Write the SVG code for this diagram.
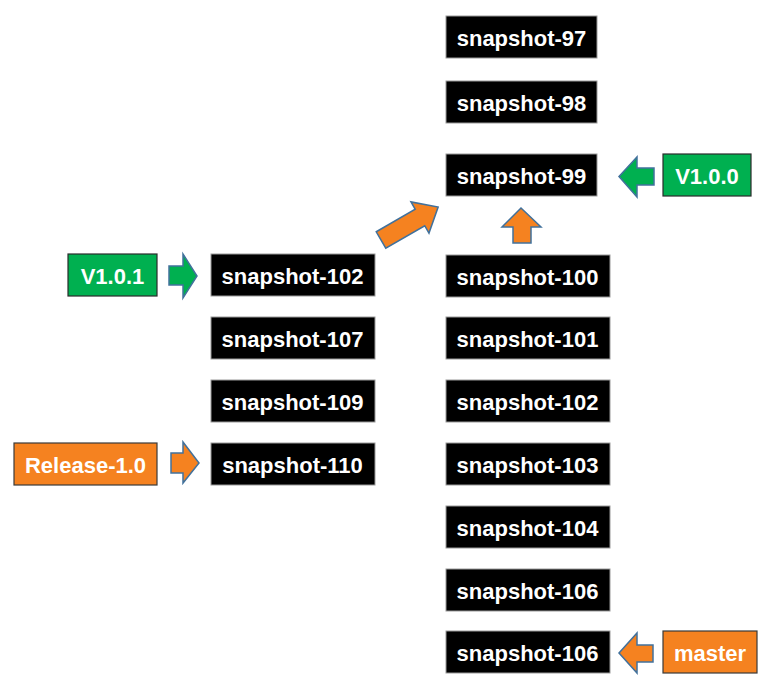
<svg xmlns="http://www.w3.org/2000/svg" width="769" height="686" viewBox="0 0 769 686">
<style>
.snap{fill:#000;stroke:#9a9a9a;stroke-width:1}
.green{fill:#00B050;stroke:#2b2b2b;stroke-width:1.2}
.orange{fill:#F58220;stroke:#3a3a3a;stroke-width:1.2}
.t{font-family:"Liberation Sans",Arial,sans-serif;font-weight:bold;font-size:22px;fill:#fff;text-anchor:middle}
.ga{fill:#00B050;stroke:#41719C;stroke-width:1.5;stroke-linejoin:miter}
.oa{fill:#F58220;stroke:#41719C;stroke-width:1.5;stroke-linejoin:miter}
</style>
<rect width="769" height="686" fill="#fff"/>
<g id="s97"><rect class="snap" x="446" y="16" width="151" height="42"/><text class="t" x="521.5" y="45.5">snapshot-97</text></g>
<g id="s98"><rect class="snap" x="446" y="81" width="151" height="42"/><text class="t" x="521.5" y="110.5">snapshot-98</text></g>
<g id="s99"><rect class="snap" x="446" y="154" width="151" height="42"/><text class="t" x="521.5" y="183.5">snapshot-99</text></g>
<g id="s100"><rect class="snap" x="446" y="255" width="164" height="42"/><text class="t" x="527.5" y="284.5">snapshot-100</text></g>
<g id="s101"><rect class="snap" x="446" y="317" width="164" height="42"/><text class="t" x="527.5" y="346.5">snapshot-101</text></g>
<g id="s102r"><rect class="snap" x="446" y="380" width="164" height="42"/><text class="t" x="527.5" y="409.5">snapshot-102</text></g>
<g id="s103"><rect class="snap" x="446" y="443" width="164" height="42"/><text class="t" x="527.5" y="472.5">snapshot-103</text></g>
<g id="s104"><rect class="snap" x="446" y="506" width="164" height="42"/><text class="t" x="527.5" y="535.5">snapshot-104</text></g>
<g id="s106a"><rect class="snap" x="446" y="569" width="164" height="42"/><text class="t" x="527.5" y="598.5">snapshot-106</text></g>
<g id="s106b"><rect class="snap" x="446" y="631" width="164" height="42"/><text class="t" x="527.5" y="660.5">snapshot-106</text></g>
<g id="s102l"><rect class="snap" x="211" y="254" width="164" height="42"/><text class="t" x="292.5" y="283.5">snapshot-102</text></g>
<g id="s107"><rect class="snap" x="211" y="317" width="164" height="42"/><text class="t" x="292.5" y="346.5">snapshot-107</text></g>
<g id="s109"><rect class="snap" x="211" y="380" width="164" height="42"/><text class="t" x="292.5" y="409.5">snapshot-109</text></g>
<g id="s110"><rect class="snap" x="211" y="443" width="164" height="42"/><text class="t" x="292.5" y="472.5">snapshot-110</text></g>
<g id="v100"><rect class="green" x="663" y="154" width="88" height="42"/><text class="t" x="707" y="183.5">V1.0.0</text></g>
<g id="v101"><rect class="green" x="68" y="254" width="89" height="42"/><text class="t" x="112.5" y="283.5">V1.0.1</text></g>
<g id="release"><rect class="orange" x="14" y="443" width="143" height="42"/><text class="t" x="85.5" y="472.5">Release-1.0</text></g>
<g id="master"><rect class="orange" x="663" y="631" width="94" height="42"/><text class="t" x="710" y="660.5">master</text></g>
<g id="connectors">
<polygon class="ga" points="654,168 637,168 637,157 619,176.5 637,197 637,185 654,185"/>
<polygon class="ga" points="169,266 183,266 183,254 197,276 183,298 183,285 169,285"/>
<polygon class="oa" points="171,453 183,453 183,442 199,463 183,483 183,473 171,473"/>
<polygon class="oa" points="653,645 637,645 637,633 619,653 637,673 637,662 653,662"/>
<polygon class="oa" points="513,243 513,227 502,227 521,208 541,227 531,227 531,243"/>
<polygon class="oa" transform="translate(381,240) rotate(-30)" points="0,-9.5 45,-9.5 45,-18 66,0 45,18 45,9.5 0,9.5"/>
</g>
</svg>
